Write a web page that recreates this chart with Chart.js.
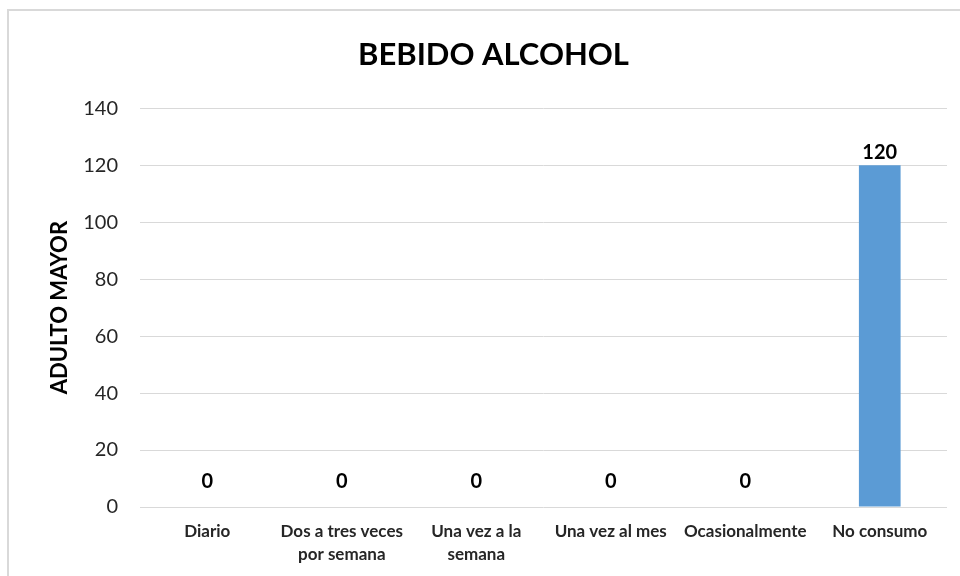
<!DOCTYPE html>
<html>
<head>
<meta charset="utf-8">
<script src="https://cdn.jsdelivr.net/npm/chart.js@4/dist/chart.umd.min.js"></script>
<style>
  html, body { margin: 0; padding: 0; background: #fff; overflow: hidden; }
  #wrap { position: relative; width: 960px; height: 576px; }
  #frame {
    position: absolute; left: 7px; top: 9px; width: 1000px; height: 600px;
    border: 2px solid #d9d9d9; box-sizing: border-box; pointer-events: none;
  }
  canvas { position: absolute; left: 0; top: 0; }
</style>
</head>
<body>
<div id="wrap">
  <canvas id="myChart" width="960" height="576"></canvas>
  <div id="frame"></div>
</div>
<script>
const categories = [
  "Diario",
  ["Dos a tres veces", "por semana"],
  ["Una vez a la", "semana"],
  "Una vez al mes",
  "Ocasionalmente",
  "No consumo",
];
const adultoMayor = [0, 0, 0, 0, 0, 120];
const yTicks = [0, 20, 40, 60, 80, 100, 120, 140];

const FONT = "Lato, 'Open Sans', sans-serif";

// value labels above each bar
const barValues = {
  id: "barValues",
  afterDatasetsDraw(chart) {
    const ctx = chart.ctx;
    const meta = chart.getDatasetMeta(0);
    ctx.save();
    ctx.font = "bold 20px " + FONT;
    ctx.fillStyle = "#000";
    ctx.textAlign = "center";
    ctx.textBaseline = "bottom";
    meta.data.forEach((bar, i) => {
      const top = Math.min(bar.y, bar.base - 12);
      ctx.fillText(String(adultoMayor[i]), bar.x, top - 3);
    });
    ctx.restore();
  },
};

function renderChart() {
  const ctx = document.getElementById("myChart");

  new Chart(ctx, {
    type: "bar",
    data: {
      labels: categories,
      datasets: [
        {
          label: "Adulto mayor",
          data: adultoMayor,
          backgroundColor: "#5b9bd5",
          barPercentage: 0.62,
          categoryPercentage: 0.5,
        },
      ],
    },
    options: {
      responsive: false,
      animation: false,
      layout: { padding: { left: 40, right: 13, top: 7, bottom: 0 } },
      plugins: {
        legend: { display: false },
        tooltip: { enabled: false },
        title: {
          display: true,
          text: "BEBIDO ALCOHOL",
          color: "#000",
          font: { family: FONT, size: 31, weight: "bold", lineHeight: 1.2 },
          padding: { top: 29, bottom: 35 },
        },
      },
      scales: {
        x: {
          grid: { display: false, drawTicks: false },
          border: { display: false },
          ticks: {
            color: "#262626",
            font: { family: FONT, size: 17, weight: "bold", lineHeight: 1.35 },
            padding: 13,
            maxRotation: 0,
            autoSkip: false,
          },
          afterFit(scale) {
            scale.height = 69;
          },
        },
        y: {
          min: 0,
          max: 140,
          afterBuildTicks(scale) {
            scale.ticks = yTicks.map((v) => ({ value: v }));
          },
          grid: { color: "#d9d9d9", lineWidth: 1, drawTicks: false },
          border: { display: false },
          ticks: {
            color: "#262626",
            font: { family: FONT, size: 20 },
            padding: 22,
          },
          title: {
            display: true,
            text: "ADULTO MAYOR",
            color: "#000",
            font: { family: FONT, size: 22, weight: "bold" },
            padding: { top: 7, bottom: 0 },
          },
          afterFit(scale) {
            scale.width = 100;
          },
        },
      },
    },
    plugins: [barValues],
  });
}

window.onload = renderChart;
</script>
</body>
</html>
